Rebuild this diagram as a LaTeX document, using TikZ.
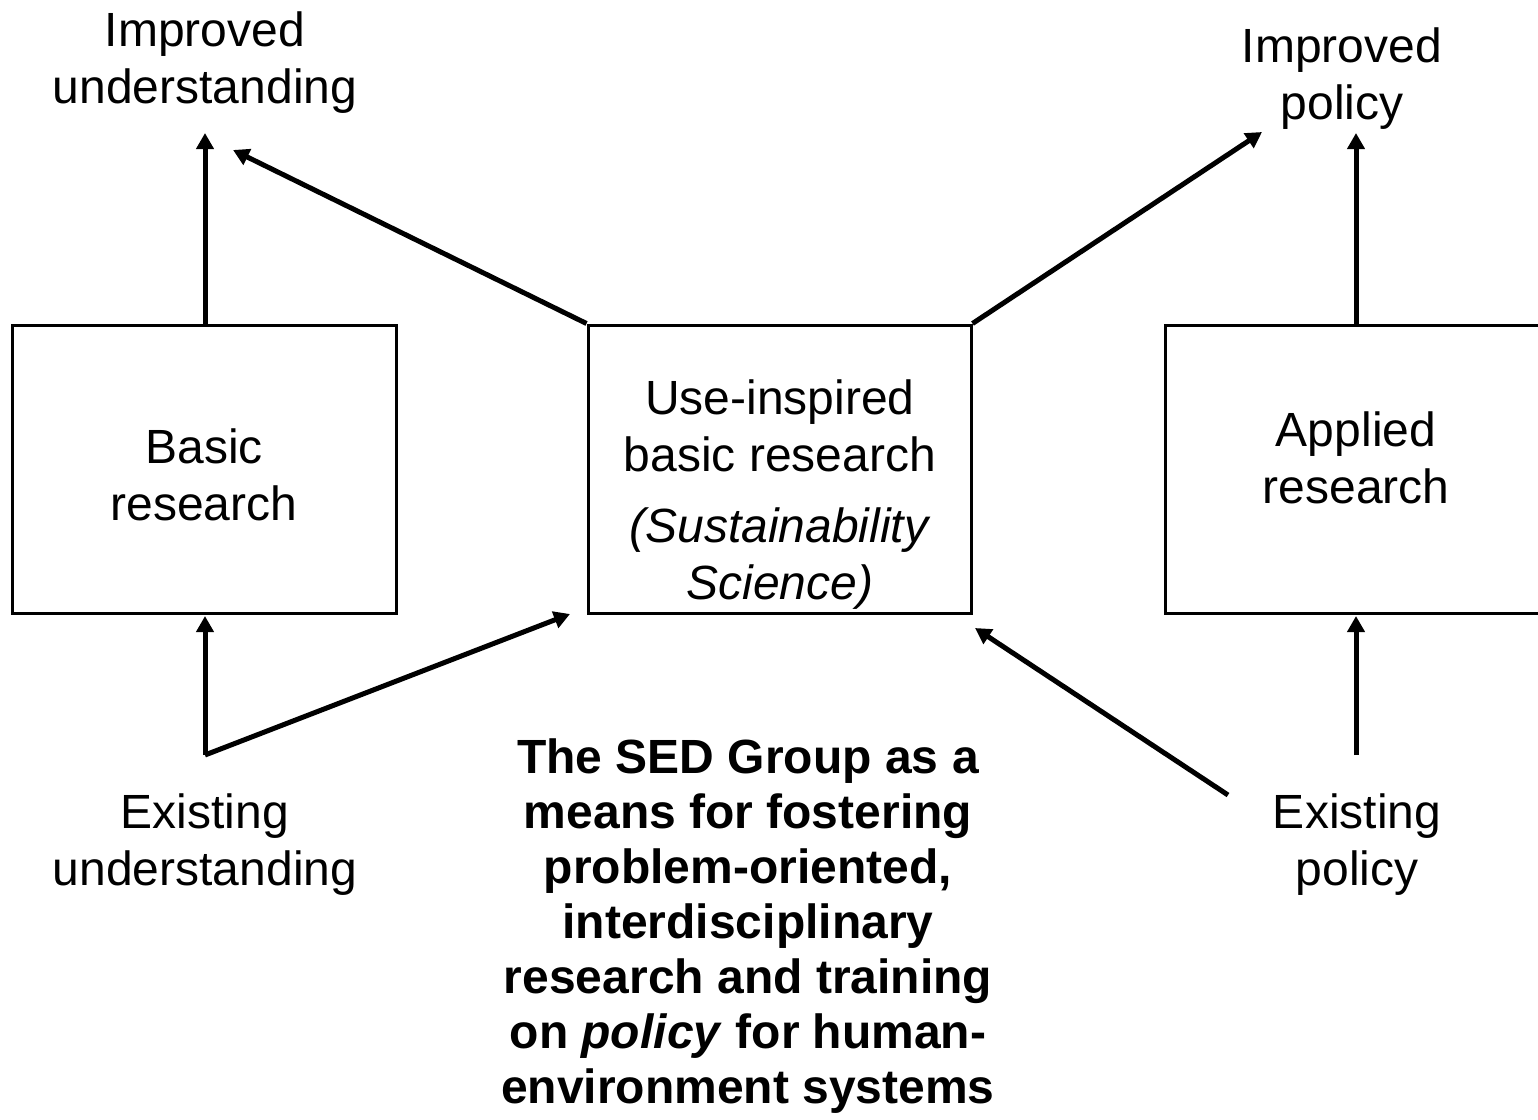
\documentclass[tikz,border=0pt]{standalone}
\usepackage{fontspec}
\setmainfont{Liberation Sans}
\usetikzlibrary{arrows.meta,calc}
\begin{document}
\begin{tikzpicture}[x=1pt,y=-1pt,
  box/.style={draw, line width=3pt, inner sep=0pt, minimum height=288pt},
  lbl/.style={align=center, font=\fontsize{48}{57}\selectfont, inner sep=0pt},
  arr/.style={line width=5pt, -{Triangle[length=16pt,width=17pt]}},
]
\useasboundingbox (0,0) rectangle (1538,1119);
% boxes
\node[box, minimum width=384pt] (basic) at (204,469) {};
\node[box, minimum width=383pt] (use) at (779.5,469) {};
\node[box, minimum width=382pt] (applied) at (1356,469) {};
% box texts
\node[lbl] (basictxt) at (204,475) {Basic\\research};
\node[lbl] (usetxt) at (780,495) {Use-inspired\\basic research\\[14pt]\textit{(Sustainability}\\\textit{Science)}};
\node[lbl] (appliedtxt) at (1356,458) {Applied\\research};
% outer labels
\node[lbl] (iu) at (205,63) {Improved\\understanding};
\node[lbl] (ip) at (1342,79) {Improved\\policy};
\node[lbl] (eu) at (205,845) {Existing\\understanding};
\node[lbl] (ep) at (1357,845) {Existing\\policy};
\node[lbl, font=\fontsize{48}{55}\selectfont\bfseries] (sed) at (748,926)
  {The SED Group as a\\means for fostering\\problem-oriented,\\interdisciplinary\\research and training\\on \textit{policy} for human-\\environment systems};
% connector ends
\coordinate (bstart) at ($(basic.north)+(1,0)$);
\coordinate (iutip) at (205,133);
\coordinate (iutip2) at (233,150);
\coordinate (iptip) at (1262,132);
\coordinate (iptip2) at (1356,133);
\coordinate (eujoin) at (205,755);
\coordinate (basictip) at (205,616);
\coordinate (usetip) at (570,614);
\coordinate (epstart) at (1228,795);
\coordinate (usetip2) at (975,628);
\coordinate (apstart) at (1356,755);
\coordinate (aptip) at (1356,616);
% connectors
\draw[arr] (bstart) -- (iutip);
\draw[arr] (use.north west) -- (iutip2);
\draw[arr] (use.north east) -- (iptip);
\draw[arr] (applied.north) -- (iptip2);
\draw[arr] (eujoin) -- (basictip);
\draw[arr] (eujoin) -- (usetip);
\draw[arr] (epstart) -- (usetip2);
\draw[arr] (apstart) -- (aptip);
\end{tikzpicture}
\end{document}
